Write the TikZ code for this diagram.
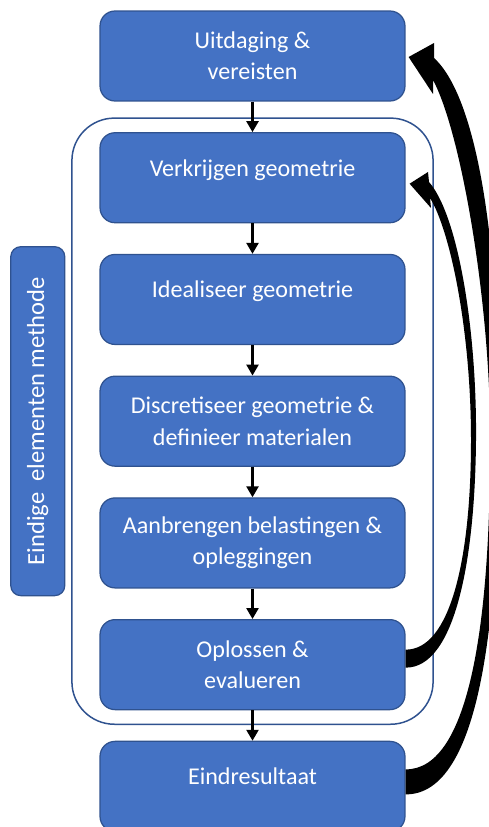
\documentclass[tikz,border=0pt]{standalone}
\usepackage{fontspec}
\setmainfont{Carlito}
\usetikzlibrary{positioning,fit,calc,arrows.meta}
\definecolor{vakblauw}{HTML}{4472C4}
\definecolor{randblauw}{HTML}{2F528F}
\tikzset{
	stap/.style={draw=randblauw, line width=0.25mm, fill=vakblauw, rounded corners=0.3cm,
		minimum width=6.1cm, minimum height=1.8cm, inner sep=0pt, align=center,
		text=white, font=\fontsize{13.7}{17.8}\selectfont},
	enkel/.style={text depth=0.4cm},
	pijl/.style={line width=0.5mm, -{Triangle[length=0.22cm, width=0.24cm]}}
}

\begin{document}
\begin{tikzpicture}[x=0.02cm, y=-0.02cm, node distance=0.61cm]
		%%%%% START %%%%%
		\useasboundingbox (0, 0) rectangle (489, 827);
		
		\node[stap] (uitdaging) at (252.5, 56) {Uitdaging \&\\vereisten};
		\node[stap, enkel, below=of uitdaging] (verkrijgen) {Verkrijgen geometrie};
		\node[stap, enkel, below=of verkrijgen] (idealiseer) {Idealiseer geometrie};
		\node[stap, below=of idealiseer] (discretiseer) {Discretiseer geometrie \&\\definieer materialen};
		\node[stap, below=of discretiseer] (belasting) {Aanbrengen belastingen \&\\opleggingen};
		\node[stap, below=of belasting] (oplossen) {Oplossen \&\\evalueren};
		\node[stap, enkel, below=of oplossen] (eind) {Eindresultaat};
		
		\node[draw=randblauw, line width=0.3mm, rounded corners=0.85cm, inner xsep=0.55cm,
			inner ysep=0.28cm, fit=(verkrijgen)(oplossen)] (methode) {};
		
		\node[stap, rotate=90, anchor=south, minimum width=6.98cm, minimum height=1.08cm,
			rounded corners=0.2cm, font=\fontsize{14}{17}\selectfont] (fem)
			at ($(discretiseer.west)+(-34, 0)$) {Eindige\ \ elementen methode};
		
		\draw[pijl] (uitdaging) -- (verkrijgen);
		\draw[pijl] (verkrijgen) -- (idealiseer);
		\draw[pijl] (idealiseer) -- (discretiseer);
		\draw[pijl] (discretiseer) -- (belasting);
		\draw[pijl] (belasting) -- (oplossen);
		\draw[pijl] (oplossen) -- (eind);
		
		% terug naar verkrijgen geometrie
		\fill ($(oplossen.east)+(0, 3)$) .. controls (455, 668) and (475, 560) .. (476, 440)
			.. controls (477, 330) and (458, 215) .. (429, 182)
			-- (428, 172) -- ($(verkrijgen.east)+(4, 6)$) -- (431, 208) -- (430, 198)
			.. controls (450, 230) and (471, 330) .. (471, 440)
			.. controls (471, 560) and (450, 650) .. ($(oplossen.east)+(0, -15)$) -- cycle;
		
		% terug naar uitdaging
		\fill ($(eind.east)+(0, 8)$) .. controls (480, 795) and (500, 620) .. (498, 420)
			.. controls (500, 260) and (480, 100) .. (434, 58)
			-- (434, 43) -- ($(uitdaging.east)+(3, 1)$) -- (433, 94) -- (433, 80)
			.. controls (460, 130) and (488, 290) .. (490, 420)
			.. controls (492, 620) and (470, 770) .. ($(eind.east)+(0, -17)$) -- cycle;
		
		%%%%% END %%%%%
\end{tikzpicture}
\end{document}
